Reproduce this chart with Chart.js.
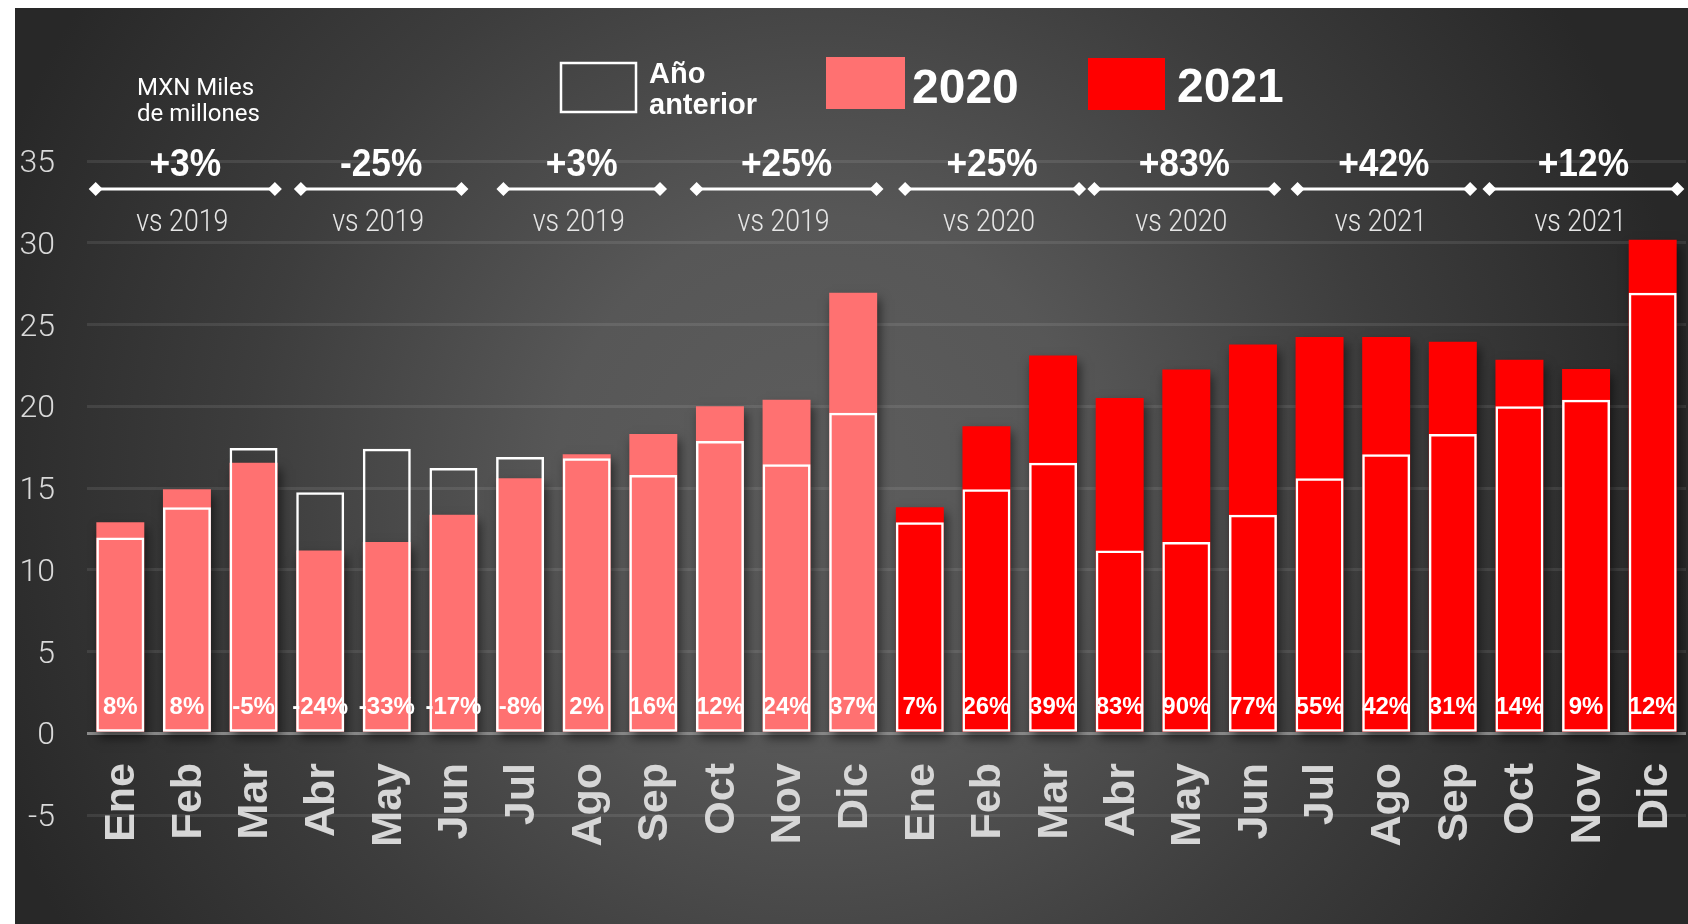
<!DOCTYPE html>
<html lang="es">
<head>
<meta charset="utf-8">
<title>Ventas mensuales 2020-2021</title>
<script src="https://cdn.jsdelivr.net/npm/chart.js@4.4.1/dist/chart.umd.min.js"></script>
<style>
  html, body { margin: 0; padding: 0; background: #fff; }
  canvas { display: block; }
</style>
</head>
<body>
<canvas id="ventasChart" width="1688" height="924"></canvas>
<script>
// Datos (MXN miles de millones)
const meses = ['Ene', 'Feb', 'Mar', 'Abr', 'May', 'Jun', 'Jul', 'Ago', 'Sep', 'Oct', 'Nov', 'Dic'];
const ventas2019 = [11.98, 13.82, 17.45, 14.74, 17.4, 16.23, 16.9, 16.82, 15.8, 17.88, 16.46, 19.6];
const ventas2020 = [12.9, 14.93, 16.55, 11.18, 11.7, 13.37, 15.6, 17.06, 18.3, 20.0, 20.4, 26.94];
const ventas2021 = [13.82, 18.77, 23.1, 20.5, 22.25, 23.77, 24.24, 24.24, 23.95, 22.84, 22.28, 30.18];
const variacion = [8, 8, -5, -24, -33, -17, -8, 2, 16, 12, 24, 37, 7, 26, 39, 83, 90, 77, 55, 42, 31, 14, 9, 12];
const trimestreCambio = ['+3%', '-25%', '+3%', '+25%', '+25%', '+83%', '+42%', '+12%'];
const trimestreBase = ['vs 2019', 'vs 2019', 'vs 2019', 'vs 2019', 'vs 2020', 'vs 2020', 'vs 2021', 'vs 2021'];

// Layout de las llaves trimestrales (en unidades de categoria)
const llaves = [[-0.37, 2.32], [2.71, 5.12], [5.75, 8.1], [8.65, 11.35], [11.78, 14.39], [14.62, 17.32], [17.67, 20.26], [20.55, 23.37]];

const ROSA = '#FF7171';
const ROJO = '#FF0000';
const SANS = '"Liberation Sans", Arial, sans-serif';

const categorias = meses.concat(meses);
const actual = ventas2020.concat(ventas2021);
const anterior = ventas2019.concat(ventas2020);
const colores = categorias.map((m, i) => i < 12 ? ROSA : ROJO);

// texto con escala horizontal (aspecto condensado)
function texto(ctx, str, x, y, font, color, align, sx) {
    ctx.save();
    ctx.font = font;
    ctx.fillStyle = color;
    ctx.textAlign = align;
    ctx.textBaseline = 'alphabetic';
    ctx.translate(x, y);
    ctx.scale(sx, 1);
    ctx.fillText(str, 0, 0);
    ctx.restore();
}

// Fondo oscuro con degradado
const fondo = {
    id: 'fondo',
    beforeDraw(chart) {
        const ctx = chart.ctx;
        ctx.save();
        ctx.fillStyle = '#ffffff';
        ctx.fillRect(0, 0, chart.width, chart.height);
        const g = ctx.createRadialGradient(820, 480, 0, 820, 480, 880);
        g.addColorStop(0, '#5d5d5d');
        g.addColorStop(0.3, '#575757');
        g.addColorStop(0.65, '#3d3d3d');
        g.addColorStop(1, '#282828');
        ctx.fillStyle = g;
        ctx.fillRect(15, 8, chart.width - 15, chart.height - 8);
        ctx.restore();
    }
};

// Sombra bajo las barras rellenas
const sombra = {
    id: 'sombra',
    beforeDatasetDraw(chart, args) {
        if (args.index !== 1) return;
        const ctx = chart.ctx;
        ctx.save();
        ctx.shadowColor = 'rgba(0,0,0,0.55)';
        ctx.shadowBlur = 10;
        ctx.shadowOffsetX = 3;
        ctx.shadowOffsetY = 6;
    },
    afterDatasetDraw(chart, args) {
        if (args.index !== 1) return;
        chart.ctx.restore();
    }
};

// Porcentajes dentro de cada barra
const etiquetas = {
    id: 'etiquetas',
    afterDatasetsDraw(chart) {
        const ctx = chart.ctx;
        const y = chart.scales.y.getPixelForValue(0) - 26;
        chart.getDatasetMeta(1).data.forEach((bar, i) => {
            ctx.save();
            ctx.font = 'bold 24px ' + SANS;
            ctx.fillStyle = '#ffffff';
            ctx.textAlign = 'center';
            ctx.textBaseline = 'middle';
            ctx.fillText(variacion[i] + '%', bar.x, y);
            ctx.restore();
        });
    }
};

// Meses rotados bajo el eje (el eje x recorta sus propias etiquetas)
const mesesEje = {
    id: 'mesesEje',
    afterDraw(chart) {
        const ctx = chart.ctx;
        const x = chart.scales.x;
        categorias.forEach((m, i) => {
            ctx.save();
            ctx.translate(x.getPixelForTick(i) + 2, 763);
            ctx.rotate(-Math.PI / 2);
            ctx.font = 'bold 43px ' + SANS;
            ctx.fillStyle = '#d6d6d6';
            ctx.textAlign = 'right';
            ctx.textBaseline = 'middle';
            ctx.fillText(m, 0, 0);
            ctx.restore();
        });
    }
};

// Leyenda, unidad y llaves trimestrales
const anotaciones = {
    id: 'anotaciones',
    afterDraw(chart) {
        const ctx = chart.ctx;
        const x = chart.scales.x;

        texto(ctx, 'MXN Miles', 137, 95, '400 24px Roboto, sans-serif', '#ffffff', 'left', 1);
        texto(ctx, 'de millones', 137, 121, '400 24px Roboto, sans-serif', '#ffffff', 'left', 1);

        ctx.save();
        ctx.strokeStyle = '#ffffff';
        ctx.lineWidth = 2.5;
        ctx.strokeRect(561, 63, 75, 49);
        ctx.fillStyle = ROSA;
        ctx.fillRect(826, 57, 79, 52);
        ctx.fillStyle = ROJO;
        ctx.fillRect(1088, 58, 77, 52);
        ctx.restore();
        texto(ctx, 'Año', 649, 83, 'bold 29px ' + SANS, '#ffffff', 'left', 1);
        texto(ctx, 'anterior', 649, 114, 'bold 29px ' + SANS, '#ffffff', 'left', 1);
        texto(ctx, '2020', 912, 103, 'bold 48px ' + SANS, '#ffffff', 'left', 1);
        texto(ctx, '2021', 1177, 102, 'bold 48px ' + SANS, '#ffffff', 'left', 1);

        llaves.forEach((ll, i) => {
            const x0 = x.getPixelForValue(ll[0]);
            const x1 = x.getPixelForValue(ll[1]);
            const yl = 189;
            ctx.save();
            ctx.strokeStyle = '#ffffff';
            ctx.fillStyle = '#ffffff';
            ctx.lineWidth = 3;
            ctx.beginPath();
            ctx.moveTo(x0, yl);
            ctx.lineTo(x1, yl);
            ctx.stroke();
            [x0, x1].forEach(px => {
                ctx.beginPath();
                ctx.moveTo(px - 7, yl);
                ctx.lineTo(px, yl - 7);
                ctx.lineTo(px + 7, yl);
                ctx.lineTo(px, yl + 7);
                ctx.closePath();
                ctx.fill();
            });
            ctx.restore();
            const xc = (x0 + x1) / 2;
            texto(ctx, trimestreCambio[i], xc, 176, 'bold 38px ' + SANS, '#ffffff', 'center', 0.93);
            texto(ctx, trimestreBase[i], xc - 3, 231, '300 31px Roboto, sans-serif', '#e6e6e6', 'center', 0.86);
        });
    }
};

const ctx = document.getElementById('ventasChart').getContext('2d');
new Chart(ctx, {
    type: 'bar',
    data: {
        labels: categorias,
        datasets: [{
            label: 'Año anterior',
            data: anterior,
            backgroundColor: 'rgba(0,0,0,0)',
            borderColor: '#ffffff',
            borderWidth: 2.5,
            borderSkipped: false,
            order: 1
        }, {
            label: 'Actual',
            data: actual,
            backgroundColor: colores,
            borderWidth: 0,
            order: 2
        }]
    },
    options: {
        responsive: false,
        animation: false,
        events: [],
        layout: { padding: { left: 0, right: 2, top: 161, bottom: 0 } },
        datasets: {
            bar: { grouped: false, barPercentage: 0.72, categoryPercentage: 1 }
        },
        plugins: {
            legend: { display: false },
            tooltip: { enabled: false }
        },
        scales: {
            x: {
                grid: { display: false, drawTicks: false },
                border: { display: false },
                ticks: { display: false },
                afterFit(scale) { scale.height = 109; }
            },
            y: {
                min: -5,
                max: 35,
                grid: {
                    drawTicks: false,
                    lineWidth: 3,
                    color: c => c.tick.value === 0 ? '#8c8c8c' : 'rgba(255,255,255,0.09)'
                },
                border: { display: false },
                ticks: {
                    stepSize: 5,
                    padding: 32,
                    labelOffset: 3,
                    color: '#d9d9d9',
                    font: { family: 'Roboto, sans-serif', size: 32, weight: '300' }
                },
                afterFit(scale) { scale.width = 87; }
            }
        }
    },
    plugins: [fondo, sombra, etiquetas, mesesEje, anotaciones]
});
</script>
</body>
</html>
